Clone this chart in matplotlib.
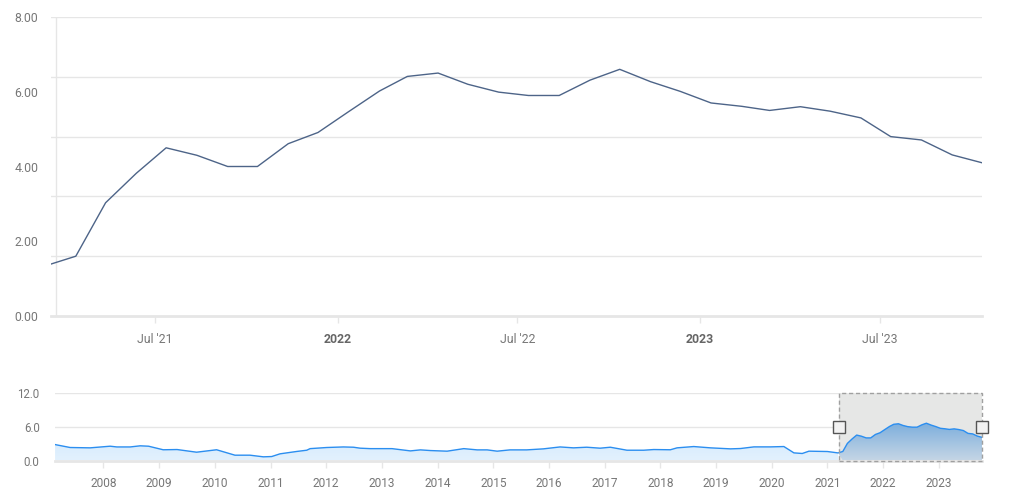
import matplotlib
matplotlib.use("Agg")
import matplotlib.pyplot as plt
import matplotlib.dates as mdates
from matplotlib.patches import Rectangle
from matplotlib.colors import LinearSegmentedColormap
import numpy as np
import pandas as pd

plt.rcParams["font.family"] = ["Roboto", "DejaVu Sans"]

# main series: monthly values, Mar 2021 .. Oct 2023 (published around the 12th)
main_start = "2021-03-01"
main_values = [1.34, 1.60, 3.03, 3.82, 4.50, 4.30, 4.00, 4.00, 4.61, 4.91,
               5.47, 6.02, 6.41, 6.50, 6.20, 5.99, 5.90, 5.90, 6.31, 6.60, 6.27, 6.01,
               5.70, 5.61, 5.50, 5.60, 5.48, 5.30, 4.80, 4.71, 4.31, 4.10]

# navigator history before the zoomed window (decimal year, value)
nav_years = [2007.13, 2007.40, 2007.76, 2008.12, 2008.24, 2008.48, 2008.66, 2008.81,
             2009.07, 2009.32, 2009.67, 2010.03, 2010.36, 2010.63, 2010.87, 2011.02,
             2011.17, 2011.47, 2011.65, 2011.71, 2012.01, 2012.31, 2012.49, 2012.61,
             2012.79, 2013.18, 2013.51, 2013.69, 2013.87, 2014.17, 2014.47, 2014.71,
             2014.89, 2015.07, 2015.30, 2015.60, 2015.90, 2016.20, 2016.44, 2016.68,
             2016.92, 2017.10, 2017.40, 2017.70, 2017.88, 2018.18, 2018.30, 2018.60,
             2018.90, 2019.26, 2019.44, 2019.68, 2019.98, 2020.22, 2020.40, 2020.55,
             2020.67, 2021.00]
nav_values = [2.82, 2.30, 2.24, 2.53, 2.40, 2.40, 2.60, 2.53,
              1.90, 1.94, 1.47, 1.90, 0.94, 0.94, 0.65, 0.70,
              1.18, 1.60, 1.82, 2.10, 2.30, 2.40, 2.35, 2.18,
              2.10, 2.10, 1.70, 1.88, 1.76, 1.65, 2.10, 1.88,
              1.88, 1.65, 1.88, 1.88, 2.06, 2.40, 2.24, 2.35,
              2.18, 2.35, 1.82, 1.82, 1.94, 1.90, 2.24, 2.47,
              2.24, 2.06, 2.12, 2.41, 2.41, 2.47, 1.35, 1.24,
              1.65, 1.59]

main_ticks = ["2021-07-01", "2022-01-01", "2022-07-01", "2023-01-01", "2023-07-01"]
main_ticklabels = ["Jul '21", "2022", "Jul '22", "2023", "Jul '23"]
main_yticks = [0, 2, 4, 6, 8]
main_grid = [0, 1.6, 3.2, 4.8, 6.4, 8.0]
nav_yticks = [0, 6, 12]
nav_years_ticks = list(range(2008, 2024))

main_dates = pd.date_range(main_start, periods=len(main_values), freq="MS") + pd.Timedelta(days=11)


def dec_to_date(y):
    base = pd.Timestamp(int(y), 1, 1)
    return base + pd.Timedelta(days=(y - int(y)) * 365.25)


nav_dates = [dec_to_date(y) for y in nav_years] + list(main_dates)
nav_vals = nav_values + main_values

W, H = 1015, 495
fig = plt.figure(figsize=(W / 100, H / 100), dpi=100)


def px_axes(x0, y0, x1, y1):
    return fig.add_axes([x0 / W, 1 - y1 / H, (x1 - x0) / W, (y1 - y0) / H])


GRID = "#e6e6e6"
LABEL = "#777777"

# ---- main chart ----
ax = px_axes(51, 17, 982, 316)
win_lo, win_hi = pd.Timestamp("2021-03-18"), pd.Timestamp("2023-10-12")
ax.set_xlim(win_lo, win_hi)
ax.set_ylim(0, 8)
for g in main_grid:
    ax.axhline(g, color=GRID, lw=1, zorder=0)
ax.plot([5 / 931, 5 / 931], [0, 1], transform=ax.transAxes, color=GRID, lw=1, zorder=0)
ax.plot(main_dates, main_values, color="#4d6488", lw=1, zorder=3)
for s in ["top", "right", "left"]:
    ax.spines[s].set_visible(False)
ax.spines["bottom"].set_color(GRID)
ax.spines["bottom"].set_linewidth(2)
ax.set_yticks(main_yticks)
ax.set_yticklabels(["%.2f" % v for v in main_yticks])
ax.tick_params(axis="y", length=0, pad=9, labelsize=8.8, labelcolor=LABEL)
ax.set_xticks([pd.Timestamp(t) for t in main_ticks])
ax.set_xticklabels(main_ticklabels)
ax.tick_params(axis="x", length=5, width=1, color=GRID, pad=7, labelsize=8.8, labelcolor=LABEL)
for lab in ax.get_xticklabels():
    if "'" not in lab.get_text():
        lab.set_fontweight("bold")
        lab.set_color("#666666")

# ---- navigator ----
nx = px_axes(55, 392.7, 982, 460.5)
nx.set_xlim(pd.Timestamp("2007-02-17"), win_hi)
nx.set_ylim(0, 12)
for g in nav_yticks:
    nx.axhline(g, color=GRID, lw=1, zorder=0)
for s in ["top", "right", "left"]:
    nx.spines[s].set_visible(False)
nx.spines["bottom"].set_color(GRID)
nx.spines["bottom"].set_linewidth(2)
nx.set_yticks(nav_yticks)
nx.set_yticklabels(["%.1f" % v for v in nav_yticks])
nx.tick_params(axis="y", length=0, pad=11, labelsize=8.3, labelcolor=LABEL)
nx.set_xticks([pd.Timestamp(y, 1, 1) for y in nav_years_ticks])
nx.set_xticklabels([str(y) for y in nav_years_ticks])
nx.tick_params(axis="x", length=5, width=1, color=GRID, pad=7, labelsize=8.6, labelcolor=LABEL)

# selection mask
nx.add_patch(Rectangle((mdates.date2num(win_lo), 0), mdates.date2num(win_hi) - mdates.date2num(win_lo), 1,
                       transform=nx.get_xaxis_transform(), facecolor="#e6e7e6", edgecolor="none",
                       zorder=1, clip_on=False))


def grad_fill(axis, xs, ys, top, bottom, lo, hi, z):
    x_num = mdates.date2num(xs)
    poly = axis.fill_between(x_num, ys, 0, where=(x_num >= lo) & (x_num <= hi),
                             interpolate=True, facecolor="none", edgecolor="none")
    cmap = LinearSegmentedColormap.from_list("g", [bottom, top])
    grad = np.linspace(0, 1, 100).reshape(-1, 1)
    im = axis.imshow(grad, cmap=cmap, aspect="auto", origin="lower",
                     extent=[lo, hi, 0, 7], zorder=z)
    im.set_clip_path(poly.get_paths()[0], transform=axis.transData)


xn = mdates.date2num(nav_dates)
lo_n, hi_n = mdates.date2num(win_lo), mdates.date2num(win_hi)
grad_fill(nx, nav_dates, nav_vals, "#cce6fd", "#e2f1fe", xn[0], lo_n, 2)
grad_fill(nx, nav_dates, nav_vals, "#78acdc", "#c4d5e5", lo_n, hi_n, 2)
nx.set_xlim(pd.Timestamp("2007-02-17"), win_hi)
nx.set_ylim(0, 12)
nx.plot(nav_dates, nav_vals, color="#2b8ef0", lw=1, zorder=3)

nx.add_patch(Rectangle((lo_n, 0), hi_n - lo_n, 1, transform=nx.get_xaxis_transform(),
                       facecolor="none", edgecolor="#a0a0a0", lw=1, ls=(0, (3, 2)),
                       zorder=4, clip_on=False))
nx.plot([win_lo, win_hi], [6, 6], ls="none", marker="s", ms=8, mfc="#f2f2f2",
        mec="#555555", mew=1, zorder=5, clip_on=False)

fig.savefig("out.png", dpi=100)
